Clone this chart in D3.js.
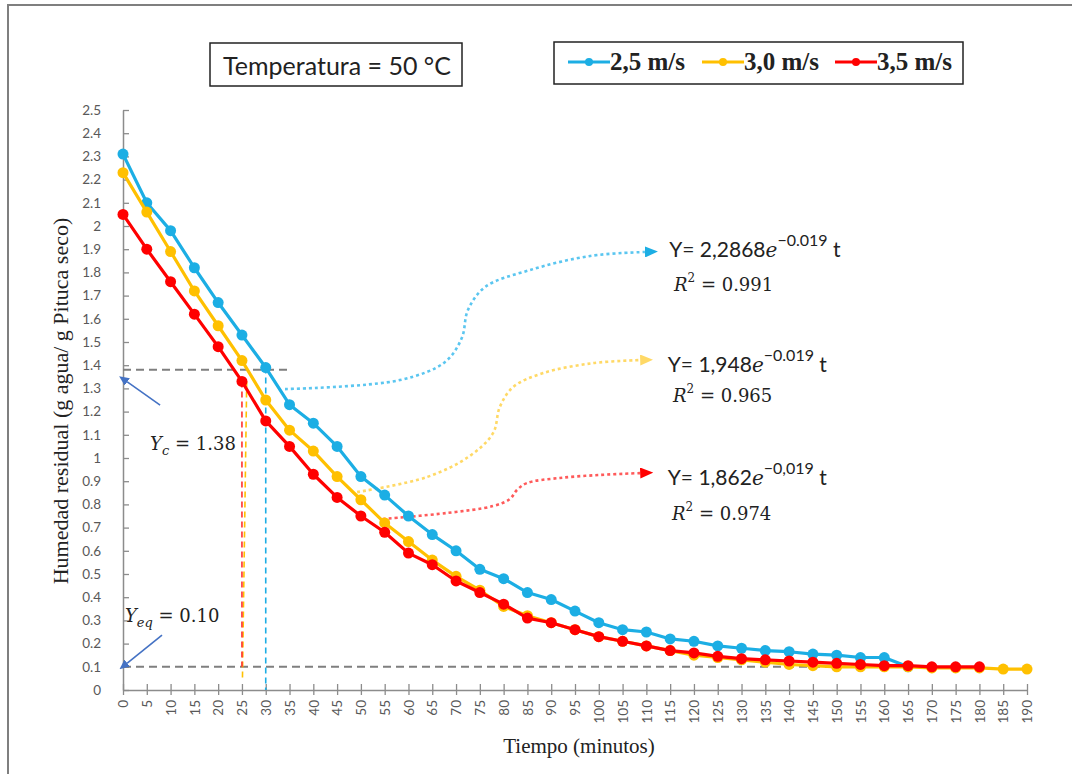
<!DOCTYPE html>
<html>
<head>
<meta charset="utf-8">
<script src="https://cdn.jsdelivr.net/npm/d3@7.9.0/dist/d3.min.js"></script>
<style>
  body { margin: 0; background: #fff; }
  svg { display: block; }
</style>
</head>
<body>
<div id="chart"></div>
<script>
// ---- data ----
const minutes = [0, 5, 10, 15, 20, 25, 30, 35, 40, 45, 50, 55, 60, 65, 70, 75, 80, 85, 90, 95,
  100, 105, 110, 115, 120, 125, 130, 135, 140, 145, 150, 155, 160, 165, 170, 175, 180, 185, 190];

const v25 = [2.31, 2.10, 1.98, 1.82, 1.67, 1.53, 1.39, 1.23, 1.15, 1.05, 0.92, 0.84, 0.75, 0.67,
  0.60, 0.52, 0.48, 0.42, 0.39, 0.34, 0.29, 0.26, 0.25, 0.22, 0.21, 0.19, 0.18, 0.17, 0.165,
  0.155, 0.15, 0.14, 0.14, 0.10];
const v30 = [2.23, 2.06, 1.89, 1.72, 1.57, 1.42, 1.25, 1.12, 1.03, 0.92, 0.82, 0.72, 0.64, 0.56,
  0.49, 0.43, 0.36, 0.32, 0.29, 0.26, 0.23, 0.21, 0.19, 0.17, 0.15, 0.14, 0.13, 0.12, 0.11,
  0.105, 0.10, 0.10, 0.10, 0.10, 0.095, 0.095, 0.095, 0.09, 0.09];
const v35 = [2.05, 1.90, 1.76, 1.62, 1.48, 1.33, 1.16, 1.05, 0.93, 0.83, 0.75, 0.68, 0.59, 0.54,
  0.47, 0.42, 0.37, 0.31, 0.29, 0.26, 0.23, 0.21, 0.19, 0.17, 0.16, 0.145, 0.135, 0.13, 0.125,
  0.12, 0.115, 0.11, 0.105, 0.105, 0.10, 0.10, 0.10];

const seriesNames = ['2,5 m/s', '3,0 m/s', '3,5 m/s'];
const seriesColors = ['#1CAEE4', '#FFC000', '#FF0000'];
const seriesValues = [v25, v30, v35];

const yTicks = [0, 0.1, 0.2, 0.3, 0.4, 0.5, 0.6, 0.7, 0.8, 0.9, 1, 1.1, 1.2, 1.3, 1.4, 1.5,
  1.6, 1.7, 1.8, 1.9, 2, 2.1, 2.2, 2.3, 2.4, 2.5];

// reference lines (minutes, humidity)
const refLines = [
  { from: [0, 1.38], to: [35.5, 1.38], color: '#7f7f7f', dash: '8,5', w: 2 },
  { from: [0, 0.10], to: [170, 0.10], color: '#7f7f7f', dash: '8,5', w: 2 },
  { from: [30, 1.39], to: [30, 0], color: '#1CAEE4', dash: '6,4', w: 1.6 },
  { from: [26, 1.33], to: [25.1, 0.04], color: '#FFC000', dash: '6,4', w: 1.6 },
  { from: [25, 1.33], to: [25, 0.10], color: '#FF3030', dash: '6,4', w: 1.6 }
];

// dotted callouts from each curve to its equation
const callouts = [
  { color: '#5BC6F0', head: '#1CAEE4', pts: [[34.05, 1.297], [58.2, 1.336], [67.7, 1.414], [71.2, 1.517],
    [72.5, 1.638], [76.1, 1.737], [85.5, 1.810], [98.2, 1.871], [109.7, 1.888]] },
  { color: '#FFD966', head: '#FFD966', pts: [[49.2, 0.853], [63.9, 0.918], [72.9, 1.009], [77.8, 1.108],
    [79.2, 1.220], [82.0, 1.306], [88.3, 1.366], [98.8, 1.409], [108.7, 1.422]] },
  { color: '#FF5A5A', head: '#FF0000', pts: [[54.6, 0.737], [68.1, 0.763], [77.8, 0.793], [81.3, 0.823],
    [82.8, 0.862], [84.9, 0.892], [91.8, 0.914], [100.3, 0.927], [108.7, 0.935]] }
];

const equations = [
  { coef: '2,2868', exp: '\u22120.019', r2: '0.991', at: [114.8, 1.866], rAt: [115.8, 1.720] },
  { coef: '1,948', exp: '\u22120.019', r2: '0.965', at: [114.5, 1.371], rAt: [115.6, 1.241] },
  { coef: '1,862', exp: '\u22120,019', r2: '0.974', at: [114.5, 0.884], rAt: [115.4, 0.733] }
];

// blue pointer arrows for Yc / Yeq
const pointers = [
  { from: [7.8, 1.228], to: [0.9, 1.328], label: 'c', value: '1.38', labelAt: [5.7, 1.034] },
  { from: [8.2, 0.237], to: [0.9, 0.116], label: 'eq', value: '0.10', labelAt: [0.4, 0.293] }
];

// ---- drawing ----
const width = 1072, height = 774;
const svg = d3.select('#chart').append('svg')
  .attr('width', width).attr('height', height);

const defs = svg.append('defs');
function arrowMarker(id, color, len, wid) {
  defs.append('marker')
    .attr('id', id)
    .attr('markerUnits', 'userSpaceOnUse')
    .attr('markerWidth', len).attr('markerHeight', wid)
    .attr('refX', 0).attr('refY', wid / 2)
    .attr('orient', 'auto')
    .append('path')
    .attr('d', `M0,0 L${len},${wid / 2} L0,${wid} Z`)
    .attr('fill', color);
}
callouts.forEach((c, i) => arrowMarker('arr' + i, c.head, 13, 11));
arrowMarker('arrBlue', '#4472C4', 10, 9);

// outer frame
svg.append('rect')
  .attr('x', 8).attr('y', 5).attr('width', 1100).attr('height', 800)
  .attr('fill', 'none').attr('stroke', '#7f7f7f').attr('stroke-width', 2);

const x = d3.scaleLinear().domain([0, 190]).range([123, 1027]);
const y = d3.scaleLinear().domain([0, 2.5]).range([690, 110]);

// y axis
const yAxis = svg.append('g')
  .attr('transform', `translate(${x(0)},0)`)
  .call(d3.axisLeft(y).tickValues(yTicks).tickSize(-6).tickSizeOuter(0)
    .tickPadding(22).tickFormat(d => String(+d.toFixed(1))));
yAxis.select('.domain').attr('stroke', '#8c8c8c').attr('stroke-width', 1.5);
yAxis.selectAll('.tick line').attr('stroke', '#8c8c8c').attr('stroke-width', 1.3);
yAxis.selectAll('.tick text')
  .attr('fill', '#595959').style('font', '13.5px Lato, "Open Sans", sans-serif');

// x axis
const xAxis = svg.append('g')
  .attr('transform', `translate(0,${y(0)})`)
  .call(d3.axisBottom(x).tickValues(minutes).tickSizeOuter(0).tickFormat(d => d));
xAxis.select('.domain').attr('stroke', '#8c8c8c').attr('stroke-width', 1.5);
xAxis.selectAll('.tick line').attr('y1', -6).attr('y2', 5)
  .attr('stroke', '#8c8c8c').attr('stroke-width', 1.3);
xAxis.selectAll('.tick text')
  .attr('transform', 'rotate(-90)')
  .attr('x', -10).attr('y', 0).attr('dy', '0.35em')
  .attr('text-anchor', 'end')
  .attr('fill', '#595959').style('font', '13.5px Lato, "Open Sans", sans-serif');

// axis titles
svg.append('text')
  .attr('transform', `translate(68,${(y(0) + y(2.5)) / 2 + 1}) rotate(-90)`)
  .attr('text-anchor', 'middle')
  .style('font', '22px "Liberation Serif", "Times New Roman", serif')
  .attr('fill', '#222')
  .text('Humedad residual (g agua/ g Pituca seco)');

svg.append('text')
  .attr('x', 579).attr('y', 753)
  .attr('text-anchor', 'middle')
  .style('font', '21px "Liberation Serif", "Times New Roman", serif')
  .attr('fill', '#222')
  .text('Tiempo (minutos)');

// reference lines
svg.append('g').selectAll('line')
  .data(refLines).join('line')
  .attr('x1', d => x(d.from[0])).attr('y1', d => y(d.from[1]))
  .attr('x2', d => x(d.to[0])).attr('y2', d => y(d.to[1]))
  .attr('stroke', d => d.color).attr('stroke-width', d => d.w)
  .attr('stroke-dasharray', d => d.dash);

// dotted callouts
const calloutLine = d3.line()
  .x(d => x(d[0])).y(d => y(d[1]))
  .curve(d3.curveCatmullRom.alpha(0.5));
svg.append('g').selectAll('path')
  .data(callouts).join('path')
  .attr('d', d => calloutLine(d.pts))
  .attr('fill', 'none')
  .attr('stroke', d => d.color).attr('stroke-width', 2.6)
  .attr('stroke-dasharray', '3,3')
  .attr('marker-end', (d, i) => `url(#arr${i})`);

// series
const line = d3.line().x(d => x(d.t)).y(d => y(d.v));
seriesValues.forEach((vals, i) => {
  const pts = vals.map((v, j) => ({ t: minutes[j], v }));
  const g = svg.append('g');
  g.append('path')
    .attr('d', line(pts))
    .attr('fill', 'none')
    .attr('stroke', seriesColors[i]).attr('stroke-width', 3.2)
    .attr('stroke-linejoin', 'round');
  g.selectAll('circle')
    .data(pts).join('circle')
    .attr('cx', d => x(d.t)).attr('cy', d => y(d.v))
    .attr('r', 5.5)
    .attr('fill', seriesColors[i]);
});

// Yc / Yeq pointers
pointers.forEach(p => {
  svg.append('line')
    .attr('x1', x(p.from[0])).attr('y1', y(p.from[1]))
    .attr('x2', x(p.to[0])).attr('y2', y(p.to[1]))
    .attr('stroke', '#4472C4').attr('stroke-width', 1.6)
    .attr('marker-end', 'url(#arrBlue)');
  const t = svg.append('text')
    .attr('x', x(p.labelAt[0])).attr('y', y(p.labelAt[1]))
    .attr('fill', '#222')
    .style('font', '18px "DejaVu Serif", "Liberation Serif", serif');
  t.append('tspan').style('font-style', 'italic').text('Y');
  t.append('tspan').style('font-style', 'italic').style('font-size', '13px')
    .attr('dy', 5).text(p.label);
  t.append('tspan').attr('dy', -5).text(' = ' + p.value);
});

// equations
equations.forEach(e => {
  const t = svg.append('text')
    .attr('x', x(e.at[0])).attr('y', y(e.at[1]))
    .attr('fill', '#222')
    .style('font', '21px Lato, "Open Sans", sans-serif');
  t.append('tspan').text('Y= ' + e.coef);
  t.append('tspan').style('font-family', '"DejaVu Serif", serif')
    .style('font-style', 'italic').style('font-size', '20px').text('e');
  t.append('tspan').style('font-size', '16px').attr('dy', -11).text(e.exp);
  t.append('tspan').attr('dy', 11).text(' t');

  const r = svg.append('text')
    .attr('x', x(e.rAt[0])).attr('y', y(e.rAt[1]))
    .attr('fill', '#222')
    .style('font', '18px "DejaVu Serif", serif');
  r.append('tspan').style('font-style', 'italic').text('R');
  r.append('tspan').style('font-size', '12px').attr('dy', -9).text('2');
  r.append('tspan').attr('dy', 9).text(' = ' + e.r2);
});

// title box
svg.append('rect')
  .attr('x', 210).attr('y', 43).attr('width', 252).attr('height', 43)
  .attr('fill', '#fff').attr('stroke', '#222').attr('stroke-width', 1.5);
svg.append('text')
  .attr('x', 337).attr('y', 75)
  .attr('text-anchor', 'middle')
  .attr('fill', '#222')
  .style('font', '25px Lato, "Open Sans", sans-serif')
  .text('Temperatura = 50 \u00B0C');

// legend box
svg.append('rect')
  .attr('x', 554).attr('y', 42).attr('width', 409).attr('height', 42)
  .attr('fill', '#fff').attr('stroke', '#222').attr('stroke-width', 1.5);
const legendX = [568, 702, 835];
seriesNames.forEach((name, i) => {
  const g = svg.append('g').attr('transform', `translate(${legendX[i]},62)`);
  g.append('line').attr('x1', 0).attr('x2', 42)
    .attr('stroke', seriesColors[i]).attr('stroke-width', 3);
  g.append('circle').attr('cx', 21).attr('r', 4).attr('fill', seriesColors[i]);
  g.append('text').attr('x', 42).attr('y', 8)
    .attr('fill', '#222')
    .style('font', 'bold 25px "Liberation Serif", "Times New Roman", serif')
    .text(name);
});
</script>
</body>
</html>
